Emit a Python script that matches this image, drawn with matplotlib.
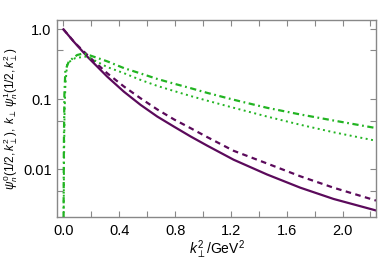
import matplotlib
matplotlib.use('Agg')
import matplotlib.pyplot as plt
import matplotlib.ticker as mticker

# values (k_perp^2 in GeV^2)
x_solid = [0.0, 0.074, 0.17, 0.313, 0.433, 0.552, 0.672, 0.791, 0.91, 1.03,
           1.219, 1.458, 1.697, 1.935, 2.24]
y_solid = [1.0, 0.667, 0.41, 0.212, 0.129, 0.0838, 0.057, 0.041, 0.0297, 0.0219,
           0.0138, 0.0085, 0.0055, 0.0038, 0.0026]

x_dash = [0.0, 0.086, 0.194, 0.313, 0.433, 0.552, 0.672, 0.791, 0.91, 1.03,
          1.219, 1.458, 1.697, 1.935, 2.24]
y_dash = [1.0, 0.63, 0.39, 0.237, 0.153, 0.104, 0.072, 0.052, 0.039, 0.029,
          0.0185, 0.0122, 0.0080, 0.0055, 0.0036]

x_dot = [0.0015, 0.004, 0.008, 0.014, 0.027, 0.086, 0.17, 0.313, 0.433, 0.552,
         0.672, 0.791, 0.91, 1.03, 1.219, 1.458, 1.697, 1.935, 2.24]
y_dot = [0.002, 0.012, 0.06, 0.16, 0.33, 0.39, 0.41, 0.29, 0.237, 0.19,
         0.156, 0.132, 0.112, 0.096, 0.076, 0.057, 0.0435, 0.034, 0.0257]

x_dashdot = [0.001, 0.003, 0.007, 0.014, 0.039, 0.098, 0.146, 0.313, 0.433, 0.552,
             0.672, 0.791, 0.91, 1.03, 1.219, 1.458, 1.697, 1.935, 2.24]
y_dashdot = [0.002, 0.02, 0.12, 0.26, 0.35, 0.43, 0.455, 0.35, 0.28, 0.235,
             0.196, 0.168, 0.145, 0.124, 0.099, 0.076, 0.061, 0.050, 0.039]

purple = '#5b0a5b'
green = '#22b422'

plt.rcParams['font.family'] = ['Liberation Sans', 'DejaVu Sans']
plt.rcParams['mathtext.fontset'] = 'custom'
plt.rcParams['mathtext.rm'] = 'Liberation Sans'
plt.rcParams['mathtext.it'] = 'Liberation Sans:italic'

fig = plt.figure(figsize=(3.81, 2.63), dpi=100)
ax = fig.add_axes([0.150, 0.175, 0.837, 0.749])

ax.plot(x_solid, y_solid, color=purple, lw=1.6, ls='-')
ax.plot(x_dash, y_dash, color=purple, lw=1.6, ls=(0, (2.5, 2.0)))
ax.plot(x_dot, y_dot, color=green, lw=1.4, ls=(0, (1.0, 1.8)))
ax.plot(x_dashdot, y_dashdot, color=green, lw=1.6, ls=(0, (2.8, 1.6, 0.8, 1.6)))

ax.set_yscale('log')
ax.set_xlim(-0.045, 2.24)
ax.set_ylim(0.0021, 1.36)

ax.xaxis.set_major_locator(mticker.MultipleLocator(0.4))
ax.xaxis.set_minor_locator(mticker.MultipleLocator(0.2))
ax.xaxis.set_major_formatter(mticker.FormatStrFormatter('%.1f'))
ax.yaxis.set_major_locator(mticker.FixedLocator([0.01, 0.1, 1.0]))
ax.yaxis.set_major_formatter(mticker.FixedFormatter(['0.01', '0.1', '1.0']))
ax.yaxis.set_minor_locator(mticker.FixedLocator([0.005, 0.05, 0.5]))
ax.yaxis.set_minor_formatter(mticker.NullFormatter())

ax.tick_params(which='both', direction='in', top=True, right=True,
               color='#888888', labelsize=10.5)
ax.tick_params(axis='x', pad=5)
ax.tick_params(axis='y', pad=4)
ax.tick_params(which='both', length=4.5, width=0.8)
for s in ax.spines.values():
    s.set_color('#888888')
    s.set_linewidth(1.0)

ax.set_xlabel(r'$k_\perp^2$/GeV$^2$', fontsize=10, labelpad=0)
ax.set_ylabel(r'$\psi_n^0(1/2,k_\perp^2),\ k_\perp\,\psi_n^1(1/2,k_\perp^2)$',
              fontsize=8.5, labelpad=2)

fig.savefig('out.png', dpi=100)
